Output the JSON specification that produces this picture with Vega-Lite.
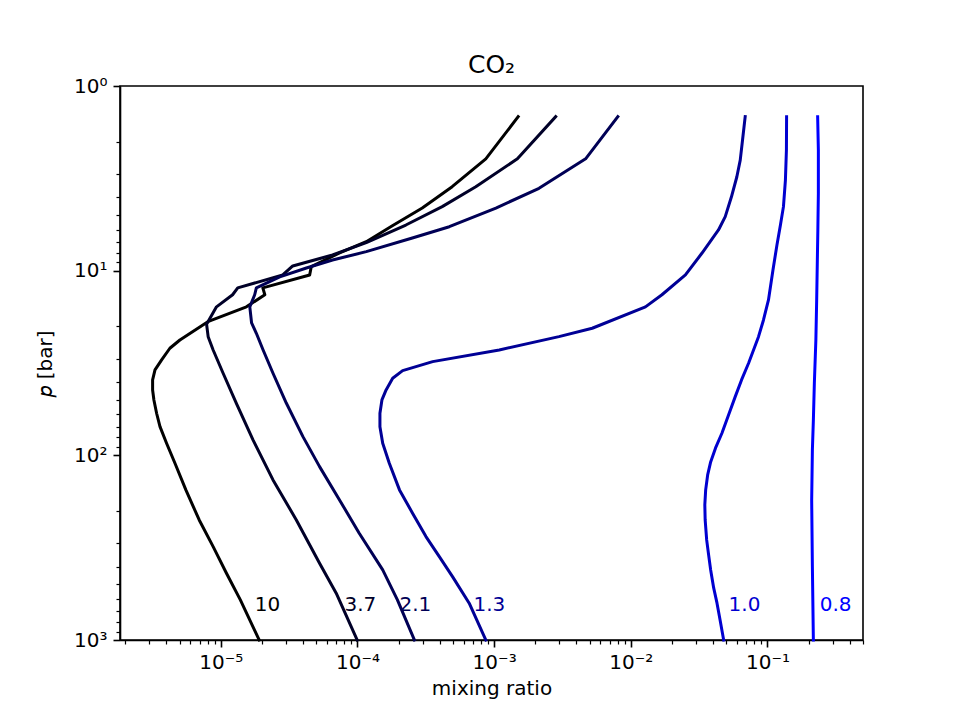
{
  "$schema": "https://vega.github.io/schema/vega-lite/v6.json",
  "width": 743,
  "height": 554,
  "autosize": {"type": "none"},
  "padding": {"left": 120, "top": 86, "right": 97, "bottom": 80},
  "background": "white",
  "config": {
    "font": "DejaVu Sans",
    "view": {"stroke": "black", "strokeWidth": 1.6},
    "axis": {
      "grid": false,
      "domainColor": "black",
      "domainWidth": 1.6,
      "tickColor": "black",
      "labelColor": "black",
      "titleColor": "black",
      "labelFont": "DejaVu Sans",
      "titleFont": "DejaVu Sans",
      "labelFontSize": 20,
      "titleFontSize": 20,
      "titleFontWeight": "normal",
      "labelOverlap": false,
      "labelBound": false,
      "labelFlush": false
    }
  },
  "title": {
    "text": "CO₂",
    "font": "DejaVu Sans",
    "fontSize": 25,
    "fontWeight": "normal",
    "color": "black",
    "anchor": "middle",
    "frame": "group",
    "offset": 7,
    "dy": 9
  },
  "datasets": {
    "profiles": [
      {"curve": "10", "mixing_ratio": 1.50e-3, "pressure": 1.466},
      {"curve": "10", "mixing_ratio": 8.69e-4, "pressure": 2.48},
      {"curve": "10", "mixing_ratio": 4.93e-4, "pressure": 3.51},
      {"curve": "10", "mixing_ratio": 2.98e-4, "pressure": 4.58},
      {"curve": "10", "mixing_ratio": 1.80e-4, "pressure": 5.71},
      {"curve": "10", "mixing_ratio": 1.16e-4, "pressure": 6.97},
      {"curve": "10", "mixing_ratio": 7.40e-5, "pressure": 8.02},
      {"curve": "10", "mixing_ratio": 4.59e-5, "pressure": 9.51},
      {"curve": "10", "mixing_ratio": 4.47e-5, "pressure": 10.55},
      {"curve": "10", "mixing_ratio": 2.03e-5, "pressure": 12.4},
      {"curve": "10", "mixing_ratio": 2.10e-5, "pressure": 13.5},
      {"curve": "10", "mixing_ratio": 1.54e-5, "pressure": 15.7},
      {"curve": "10", "mixing_ratio": 8.04e-6, "pressure": 18.9},
      {"curve": "10", "mixing_ratio": 5.02e-6, "pressure": 23.73},
      {"curve": "10", "mixing_ratio": 4.24e-6, "pressure": 26.31},
      {"curve": "10", "mixing_ratio": 3.69e-6, "pressure": 30.44},
      {"curve": "10", "mixing_ratio": 3.30e-6, "pressure": 34.48},
      {"curve": "10", "mixing_ratio": 3.17e-6, "pressure": 39.06},
      {"curve": "10", "mixing_ratio": 3.17e-6, "pressure": 44.25},
      {"curve": "10", "mixing_ratio": 3.24e-6, "pressure": 50.13},
      {"curve": "10", "mixing_ratio": 3.39e-6, "pressure": 59.17},
      {"curve": "10", "mixing_ratio": 3.59e-6, "pressure": 69.94},
      {"curve": "10", "mixing_ratio": 4.01e-6, "pressure": 86.0},
      {"curve": "10", "mixing_ratio": 4.62e-6, "pressure": 110.4},
      {"curve": "10", "mixing_ratio": 5.55e-6, "pressure": 153.9},
      {"curve": "10", "mixing_ratio": 6.95e-6, "pressure": 223.8},
      {"curve": "10", "mixing_ratio": 8.79e-6, "pressure": 312.1},
      {"curve": "10", "mixing_ratio": 1.10e-5, "pressure": 434.9},
      {"curve": "10", "mixing_ratio": 1.39e-5, "pressure": 606.6},
      {"curve": "10", "mixing_ratio": 1.91e-5, "pressure": 1000},

      {"curve": "3.7", "mixing_ratio": 2.82e-3, "pressure": 1.466},
      {"curve": "3.7", "mixing_ratio": 1.48e-3, "pressure": 2.48},
      {"curve": "3.7", "mixing_ratio": 7.34e-4, "pressure": 3.51},
      {"curve": "3.7", "mixing_ratio": 4.17e-4, "pressure": 4.50},
      {"curve": "3.7", "mixing_ratio": 2.26e-4, "pressure": 5.66},
      {"curve": "3.7", "mixing_ratio": 1.16e-4, "pressure": 7.05},
      {"curve": "3.7", "mixing_ratio": 6.57e-5, "pressure": 8.22},
      {"curve": "3.7", "mixing_ratio": 3.36e-5, "pressure": 9.43},
      {"curve": "3.7", "mixing_ratio": 2.84e-5, "pressure": 10.55},
      {"curve": "3.7", "mixing_ratio": 1.33e-5, "pressure": 12.4},
      {"curve": "3.7", "mixing_ratio": 1.22e-5, "pressure": 13.5},
      {"curve": "3.7", "mixing_ratio": 9.30e-6, "pressure": 15.7},
      {"curve": "3.7", "mixing_ratio": 7.87e-6, "pressure": 19.5},
      {"curve": "3.7", "mixing_ratio": 8.08e-6, "pressure": 22.77},
      {"curve": "3.7", "mixing_ratio": 8.79e-6, "pressure": 26.88},
      {"curve": "3.7", "mixing_ratio": 1.04e-5, "pressure": 35.93},
      {"curve": "3.7", "mixing_ratio": 1.30e-5, "pressure": 52.25},
      {"curve": "3.7", "mixing_ratio": 1.72e-5, "pressure": 82.5},
      {"curve": "3.7", "mixing_ratio": 2.41e-5, "pressure": 135.9},
      {"curve": "3.7", "mixing_ratio": 3.57e-5, "pressure": 223.8},
      {"curve": "3.7", "mixing_ratio": 5.28e-5, "pressure": 383.8},
      {"curve": "3.7", "mixing_ratio": 6.99e-5, "pressure": 557.9},
      {"curve": "3.7", "mixing_ratio": 9.95e-5, "pressure": 1000},

      {"curve": "2.1", "mixing_ratio": 8.04e-3, "pressure": 1.466},
      {"curve": "2.1", "mixing_ratio": 4.67e-3, "pressure": 2.48},
      {"curve": "2.1", "mixing_ratio": 2.13e-3, "pressure": 3.58},
      {"curve": "2.1", "mixing_ratio": 1.03e-3, "pressure": 4.58},
      {"curve": "2.1", "mixing_ratio": 4.70e-4, "pressure": 5.78},
      {"curve": "2.1", "mixing_ratio": 2.52e-4, "pressure": 6.65},
      {"curve": "2.1", "mixing_ratio": 1.16e-4, "pressure": 7.89},
      {"curve": "2.1", "mixing_ratio": 6.57e-5, "pressure": 8.75},
      {"curve": "2.1", "mixing_ratio": 4.23e-5, "pressure": 9.67},
      {"curve": "2.1", "mixing_ratio": 2.70e-5, "pressure": 10.8},
      {"curve": "2.1", "mixing_ratio": 1.82e-5, "pressure": 12.4},
      {"curve": "2.1", "mixing_ratio": 1.77e-5, "pressure": 13.5},
      {"curve": "2.1", "mixing_ratio": 1.63e-5, "pressure": 15.7},
      {"curve": "2.1", "mixing_ratio": 1.68e-5, "pressure": 19.2},
      {"curve": "2.1", "mixing_ratio": 1.82e-5, "pressure": 21.83},
      {"curve": "2.1", "mixing_ratio": 2.04e-5, "pressure": 26.88},
      {"curve": "2.1", "mixing_ratio": 2.41e-5, "pressure": 35.93},
      {"curve": "2.1", "mixing_ratio": 3.02e-5, "pressure": 52.25},
      {"curve": "2.1", "mixing_ratio": 3.99e-5, "pressure": 79.2},
      {"curve": "2.1", "mixing_ratio": 5.28e-5, "pressure": 115.1},
      {"curve": "2.1", "mixing_ratio": 7.39e-5, "pressure": 174.4},
      {"curve": "2.1", "mixing_ratio": 1.03e-4, "pressure": 264.1},
      {"curve": "2.1", "mixing_ratio": 1.53e-4, "pressure": 417.4},
      {"curve": "2.1", "mixing_ratio": 1.96e-4, "pressure": 606.6},
      {"curve": "2.1", "mixing_ratio": 2.61e-4, "pressure": 1000},

      {"curve": "1.3", "mixing_ratio": 0.0687, "pressure": 1.466},
      {"curve": "1.3", "mixing_ratio": 0.0657, "pressure": 1.96},
      {"curve": "1.3", "mixing_ratio": 0.0632, "pressure": 2.52},
      {"curve": "1.3", "mixing_ratio": 0.0597, "pressure": 3.10},
      {"curve": "1.3", "mixing_ratio": 0.0545, "pressure": 3.98},
      {"curve": "1.3", "mixing_ratio": 0.0491, "pressure": 5.10},
      {"curve": "1.3", "mixing_ratio": 0.0438, "pressure": 6.02},
      {"curve": "1.3", "mixing_ratio": 0.0331, "pressure": 8.05},
      {"curve": "1.3", "mixing_ratio": 0.0251, "pressure": 10.55},
      {"curve": "1.3", "mixing_ratio": 0.0169, "pressure": 13.5},
      {"curve": "1.3", "mixing_ratio": 0.0128, "pressure": 15.7},
      {"curve": "1.3", "mixing_ratio": 5.22e-3, "pressure": 20.5},
      {"curve": "1.3", "mixing_ratio": 2.98e-3, "pressure": 22.77},
      {"curve": "1.3", "mixing_ratio": 1.09e-3, "pressure": 26.88},
      {"curve": "1.3", "mixing_ratio": 3.55e-4, "pressure": 31.09},
      {"curve": "1.3", "mixing_ratio": 2.14e-4, "pressure": 34.78},
      {"curve": "1.3", "mixing_ratio": 1.81e-4, "pressure": 38.24},
      {"curve": "1.3", "mixing_ratio": 1.62e-4, "pressure": 44.25},
      {"curve": "1.3", "mixing_ratio": 1.51e-4, "pressure": 50.13},
      {"curve": "1.3", "mixing_ratio": 1.46e-4, "pressure": 59.17},
      {"curve": "1.3", "mixing_ratio": 1.46e-4, "pressure": 69.94},
      {"curve": "1.3", "mixing_ratio": 1.53e-4, "pressure": 86.01},
      {"curve": "1.3", "mixing_ratio": 1.71e-4, "pressure": 110.4},
      {"curve": "1.3", "mixing_ratio": 2.03e-4, "pressure": 153.9},
      {"curve": "1.3", "mixing_ratio": 2.53e-4, "pressure": 205.8},
      {"curve": "1.3", "mixing_ratio": 3.17e-4, "pressure": 275.5},
      {"curve": "1.3", "mixing_ratio": 3.97e-4, "pressure": 353.6},
      {"curve": "1.3", "mixing_ratio": 4.96e-4, "pressure": 453.6},
      {"curve": "1.3", "mixing_ratio": 6.57e-4, "pressure": 632.2},
      {"curve": "1.3", "mixing_ratio": 8.69e-4, "pressure": 1000},

      {"curve": "1.0", "mixing_ratio": 0.1380, "pressure": 1.466},
      {"curve": "1.0", "mixing_ratio": 0.1376, "pressure": 2.22},
      {"curve": "1.0", "mixing_ratio": 0.1353, "pressure": 3.23},
      {"curve": "1.0", "mixing_ratio": 0.1309, "pressure": 4.50},
      {"curve": "1.0", "mixing_ratio": 0.1244, "pressure": 5.66},
      {"curve": "1.0", "mixing_ratio": 0.1173, "pressure": 7.26},
      {"curve": "1.0", "mixing_ratio": 0.1097, "pressure": 9.91},
      {"curve": "1.0", "mixing_ratio": 0.1017, "pressure": 14.41},
      {"curve": "1.0", "mixing_ratio": 0.0935, "pressure": 18.49},
      {"curve": "1.0", "mixing_ratio": 0.0860, "pressure": 22.77},
      {"curve": "1.0", "mixing_ratio": 0.0727, "pressure": 31.72},
      {"curve": "1.0", "mixing_ratio": 0.0646, "pressure": 39.06},
      {"curve": "1.0", "mixing_ratio": 0.0581, "pressure": 48.11},
      {"curve": "1.0", "mixing_ratio": 0.0519, "pressure": 60.42},
      {"curve": "1.0", "mixing_ratio": 0.0464, "pressure": 75.93},
      {"curve": "1.0", "mixing_ratio": 0.0417, "pressure": 91.19},
      {"curve": "1.0", "mixing_ratio": 0.0384, "pressure": 108.6},
      {"curve": "1.0", "mixing_ratio": 0.0365, "pressure": 127.7},
      {"curve": "1.0", "mixing_ratio": 0.0353, "pressure": 153.9},
      {"curve": "1.0", "mixing_ratio": 0.0348, "pressure": 185.6},
      {"curve": "1.0", "mixing_ratio": 0.0350, "pressure": 223.8},
      {"curve": "1.0", "mixing_ratio": 0.0359, "pressure": 287.1},
      {"curve": "1.0", "mixing_ratio": 0.0371, "pressure": 346.1},
      {"curve": "1.0", "mixing_ratio": 0.0384, "pressure": 417.4},
      {"curve": "1.0", "mixing_ratio": 0.0404, "pressure": 522.4},
      {"curve": "1.0", "mixing_ratio": 0.0427, "pressure": 629.7},
      {"curve": "1.0", "mixing_ratio": 0.0450, "pressure": 778.3},
      {"curve": "1.0", "mixing_ratio": 0.0478, "pressure": 1000},

      {"curve": "0.8", "mixing_ratio": 0.2329, "pressure": 1.466},
      {"curve": "0.8", "mixing_ratio": 0.2357, "pressure": 2.22},
      {"curve": "0.8", "mixing_ratio": 0.2357, "pressure": 3.81},
      {"curve": "0.8", "mixing_ratio": 0.2337, "pressure": 6.02},
      {"curve": "0.8", "mixing_ratio": 0.2317, "pressure": 8.75},
      {"curve": "0.8", "mixing_ratio": 0.2291, "pressure": 14.41},
      {"curve": "0.8", "mixing_ratio": 0.2260, "pressure": 23.73},
      {"curve": "0.8", "mixing_ratio": 0.2203, "pressure": 40.7},
      {"curve": "0.8", "mixing_ratio": 0.2167, "pressure": 64.3},
      {"curve": "0.8", "mixing_ratio": 0.2131, "pressure": 93.5},
      {"curve": "0.8", "mixing_ratio": 0.2106, "pressure": 174.4},
      {"curve": "0.8", "mixing_ratio": 0.2131, "pressure": 400},
      {"curve": "0.8", "mixing_ratio": 0.2167, "pressure": 1000}
    ],
    "labels": [
      {"curve": "10", "mixing_ratio": 1.77e-5, "pressure": 645},
      {"curve": "3.7", "mixing_ratio": 8.04e-5, "pressure": 645},
      {"curve": "2.1", "mixing_ratio": 2.03e-4, "pressure": 645},
      {"curve": "1.3", "mixing_ratio": 7.06e-4, "pressure": 645},
      {"curve": "1.0", "mixing_ratio": 0.0519, "pressure": 645},
      {"curve": "0.8", "mixing_ratio": 0.241, "pressure": 645}
    ]
  },
  "encoding": {
    "x": {
      "field": "mixing_ratio",
      "type": "quantitative",
      "scale": {"type": "log", "domain": [1.83e-6, 0.5], "nice": false},
      "axis": {
        "title": "mixing ratio",
        "values": [2e-6, 3e-6, 4e-6, 5e-6, 6e-6, 7e-6, 8e-6, 9e-6,
                   1e-5, 2e-5, 3e-5, 4e-5, 5e-5, 6e-5, 7e-5, 8e-5, 9e-5,
                   1e-4, 2e-4, 3e-4, 4e-4, 5e-4, 6e-4, 7e-4, 8e-4, 9e-4,
                   1e-3, 2e-3, 3e-3, 4e-3, 5e-3, 6e-3, 7e-3, 8e-3, 9e-3,
                   1e-2, 2e-2, 3e-2, 4e-2, 5e-2, 6e-2, 7e-2, 8e-2, 9e-2,
                   1e-1, 2e-1, 3e-1, 4e-1, 5e-1],
        "labelExpr": "abs(log(datum.value)/LN10 - round(log(datum.value)/LN10)) > 0.001 ? '' : '10' + replace(replace(replace(replace(replace(replace(replace(toString(round(log(datum.value)/LN10)), '-', '⁻'), '0', '⁰'), '1', '¹'), '2', '²'), '3', '³'), '4', '⁴'), '5', '⁵')",
        "tickSize": {"condition": {"test": "abs(log(datum.value)/LN10 - round(log(datum.value)/LN10)) < 0.001", "value": 7}, "value": 4},
        "tickWidth": {"condition": {"test": "abs(log(datum.value)/LN10 - round(log(datum.value)/LN10)) < 0.001", "value": 1.6}, "value": 1.2},
        "labelPadding": 5,
        "titlePadding": 6
      }
    },
    "y": {
      "field": "pressure",
      "type": "quantitative",
      "scale": {"type": "log", "domain": [1, 1000], "reverse": true, "nice": false},
      "axis": {
        "title": "𝑝 [bar]",
        "values": [1, 2, 3, 4, 5, 6, 7, 8, 9,
                   10, 20, 30, 40, 50, 60, 70, 80, 90,
                   100, 200, 300, 400, 500, 600, 700, 800, 900, 1000],
        "labelExpr": "abs(log(datum.value)/LN10 - round(log(datum.value)/LN10)) > 0.001 ? '' : '10' + replace(replace(replace(replace(toString(round(log(datum.value)/LN10)), '0', '⁰'), '1', '¹'), '2', '²'), '3', '³')",
        "tickSize": {"condition": {"test": "abs(log(datum.value)/LN10 - round(log(datum.value)/LN10)) < 0.001", "value": 7}, "value": 4},
        "tickWidth": {"condition": {"test": "abs(log(datum.value)/LN10 - round(log(datum.value)/LN10)) < 0.001", "value": 1.6}, "value": 1.2},
        "labelPadding": 6,
        "titlePadding": 18
      }
    },
    "color": {
      "field": "curve",
      "type": "nominal",
      "scale": {
        "domain": ["10", "3.7", "2.1", "1.3", "1.0", "0.8"],
        "range": ["#000000", "#000028", "#000055", "#000096", "#0000d0", "#0000ff"]
      },
      "legend": null
    }
  },
  "layer": [
    {
      "data": {"name": "profiles"},
      "mark": {"type": "line", "strokeWidth": 3, "strokeJoin": "round", "strokeCap": "square"},
      "encoding": {
        "order": {"field": "pressure", "type": "quantitative"}
      }
    },
    {
      "data": {"name": "labels"},
      "mark": {"type": "text", "align": "left", "baseline": "middle", "font": "DejaVu Sans", "fontSize": 20},
      "encoding": {
        "text": {"field": "curve", "type": "nominal"}
      }
    }
  ]
}
